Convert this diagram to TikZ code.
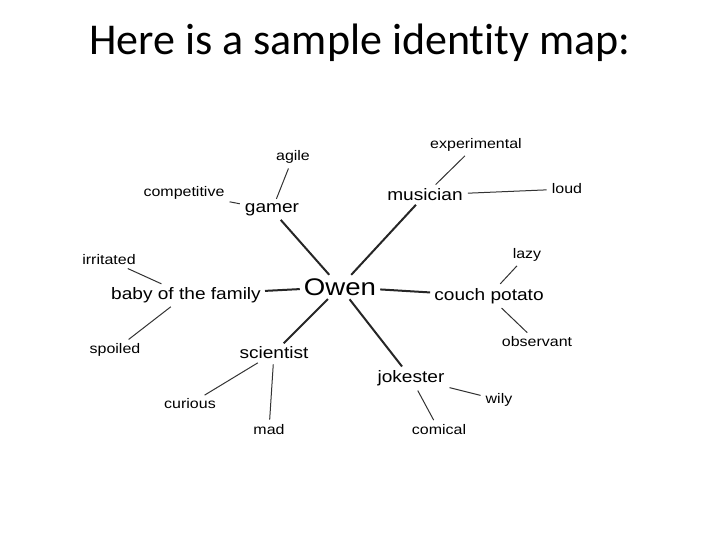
\documentclass[tikz,border=0pt]{standalone}
\usepackage{fontspec}
\setmainfont[Ligatures=NoCommon]{Carlito}
\newfontfamily\mapfont[FakeStretch=1.15]{Liberation Sans}
\tikzset{
  hub/.style={inner sep=2pt, font=\mapfont\fontsize{24}{28}\selectfont},
  branch/.style={inner sep=2pt, font=\mapfont\fontsize{16.6}{20}\selectfont},
  leaf/.style={inner sep=2pt, font=\mapfont\fontsize{13.9}{17}\selectfont},
  spoke/.style={line width=2pt, black!85, shorten <=2pt, shorten >=2pt},
  twig/.style={line width=1pt, black!80, shorten <=3pt, shorten >=3pt},
}
\begin{document}
\begin{tikzpicture}[x=1pt,y=-1pt]
\useasboundingbox (0,0) rectangle (720,540);
\node[font=\fontsize{44}{48}\selectfont] (title) at (360,43) {Here is a sample identity map:};
\node[hub] (owen) at (340,287) {Owen};
\node[branch] (gamer) at (272,210) {gamer};
\node[branch] (musician) at (425,195) {musician};
\node[branch] (couch) at (489,296) {couch potato};
\node[branch] (jokester) at (411,378) {jokester};
\node[branch] (scientist) at (274,353) {scientist};
\node[branch] (baby) at (186,295) {baby of the family};
\node[leaf] (agile) at (293,157) {agile};
\node[leaf] (compet) at (184,193) {competitive};
\node[leaf] (exper) at (476,145) {experimental};
\node[leaf] (loud) at (567,189) {loud};
\node[leaf] (lazy) at (527,255) {lazy};
\node[leaf] (observ) at (537,342) {observant};
\node[leaf] (wily) at (499,400) {wily};
\node[leaf] (comical) at (439,430) {comical};
\node[leaf] (curious) at (190,404) {curious};
\node[leaf] (mad) at (269,430) {mad};
\node[leaf] (spoiled) at (115,350) {spoiled};
\node[leaf] (irritated) at (109,260) {irritated};
% spokes from the centre
\draw[spoke] (owen) -- (gamer);
\draw[spoke] (owen) -- (musician);
\draw[spoke] (owen) -- (couch);
\draw[spoke] (owen) -- (jokester);
\draw[spoke] (owen) -- (scientist);
\draw[spoke] (owen) -- (baby);
% outer words
\draw[twig] (gamer) -- (agile);
\draw[twig] (gamer) -- (compet);
\draw[twig] (musician) -- (exper);
\draw[twig] (musician) -- (loud);
\draw[twig] (couch) -- (lazy);
\draw[twig] (couch) -- (observ);
\draw[twig] (jokester) -- (wily);
\draw[twig] (jokester) -- (comical);
\draw[twig] (scientist) -- (curious);
\draw[twig] (scientist) -- (mad);
\draw[twig] (baby) -- (spoiled);
\draw[twig] (baby) -- (irritated);
\end{tikzpicture}
\end{document}
